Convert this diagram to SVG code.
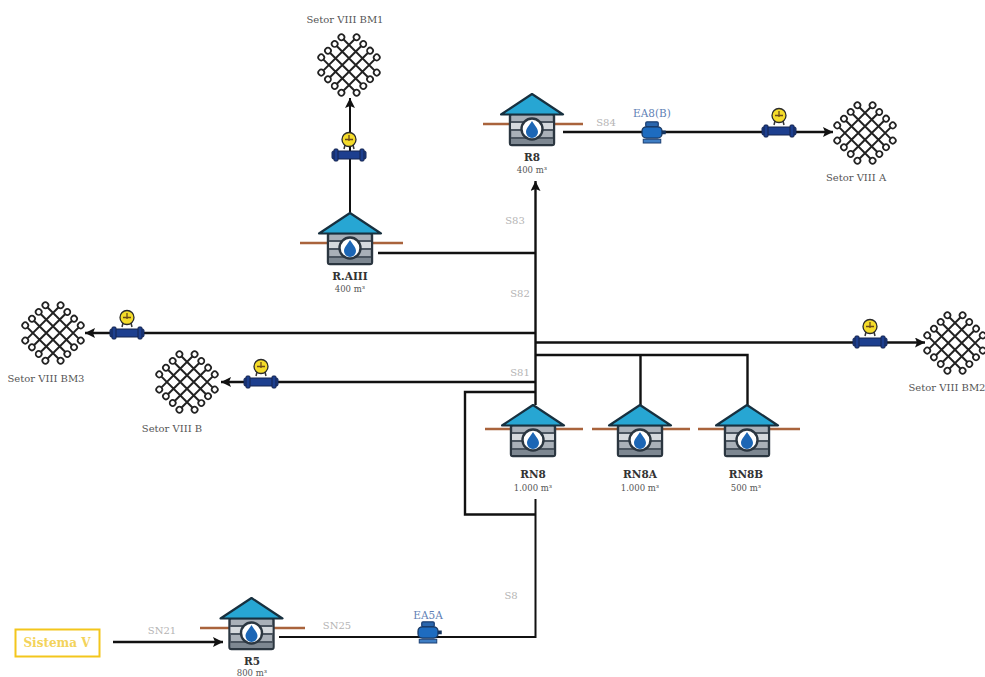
<svg xmlns="http://www.w3.org/2000/svg" xmlns:xlink="http://www.w3.org/1999/xlink" width="985" height="677" viewBox="0 0 985 677">
<style>
text{font-family:"DejaVu Serif","Liberation Serif",serif;text-anchor:middle;fill:#555}
.sec{font-size:10px}
.name{font-size:10.5px;font-weight:bold;fill:#333}
.cap{font-size:8.5px}
.pipe{font-size:10px;fill:#b4b4b4}
.eq{font-size:10.5px;fill:#5f7fb5}
.sys{font-size:12px;font-weight:bold;fill:#f3d35a}
.line{fill:none;stroke:#111;stroke-width:2.4}
.thin{stroke-width:2}
.ground{stroke:#a9633c;stroke-width:2.4;fill:none}
</style>
<defs>
<marker id="arrow" markerUnits="userSpaceOnUse" markerWidth="11" markerHeight="10" refX="10" refY="5" orient="auto"><path d="M0 0L10 5L0 10L2 5Z" fill="#111"/></marker>
<g id="house">
<rect x="-22" y="20" width="44" height="31" rx="2" fill="#a9b0b8" stroke="#2b3640" stroke-width="2.400"/>
<path d="M-21 28H21M-21 36H21M-21 44H21" stroke="#4b5560" stroke-width="2" fill="none"/>
<rect x="-21" y="29" width="42" height="6" fill="#d5d9dd"/>
<rect x="-21" y="45" width="42" height="5" fill="#7d8791"/>
<circle cx="0" cy="35" r="10.500" fill="#fff" stroke="#2b3640" stroke-width="2.400"/>
<path d="M0 27C3 32 6 34.500 6 38A6 6 0 0 1 -6 38C-6 34.500 -3 32 0 27Z" fill="#1c66b5"/>
<path d="M0 0L31 20.500H-31Z" fill="#27a6d3" stroke="#17303f" stroke-width="2.200" stroke-linejoin="round"/>
</g>
<g id="mesh" fill="none" stroke="#222">
<g transform="rotate(45)" stroke-width="2">
<path d="M-14.250 -25V25M-4.750 -25V25M4.750 -25V25M14.250 -25V25M-25 -14.250H25M-25 -4.750H25M-25 4.750H25M-25 14.250H25"/>
<g fill="#fff" stroke-width="1.700">
<circle cx="-14.250" cy="-25" r="3"/><circle cx="-4.750" cy="-25" r="3"/><circle cx="4.750" cy="-25" r="3"/><circle cx="14.250" cy="-25" r="3"/>
<circle cx="-14.250" cy="25" r="3"/><circle cx="-4.750" cy="25" r="3"/><circle cx="4.750" cy="25" r="3"/><circle cx="14.250" cy="25" r="3"/>
<circle cx="-25" cy="-14.250" r="3"/><circle cx="-25" cy="-4.750" r="3"/><circle cx="-25" cy="4.750" r="3"/><circle cx="-25" cy="14.250" r="3"/>
<circle cx="25" cy="-14.250" r="3"/><circle cx="25" cy="-4.750" r="3"/><circle cx="25" cy="4.750" r="3"/><circle cx="25" cy="14.250" r="3"/>
</g>
</g>
</g>
<g id="meter">
<path d="M-5 -6L-4 -10M5 -6L4 -10" stroke="#333" stroke-width="1.500"/>
<rect x="-17" y="-4" width="34" height="8" rx="1.500" fill="#1d3f8f" stroke="#14244f"/>
<rect x="-15" y="-6" width="4" height="12" rx="1" fill="#1d3f8f" stroke="#14244f"/>
<rect x="11" y="-6" width="4" height="12" rx="1" fill="#1d3f8f" stroke="#14244f"/>
<circle cx="0" cy="-15.500" r="7" fill="#f5dc2a" stroke="#2b2b2b" stroke-width="1.300"/>
<path d="M0 -20V-14M-4 -15.500H4" stroke="#6b4a1a" stroke-width="1.300"/>
</g>
<g id="pump">
<g transform="scale(1.250)">
<rect x="-5" y="-9" width="10" height="4" rx="1" fill="#2a66ad" stroke="#1b3f73"/>
<rect x="-8" y="-5" width="16" height="9" rx="3.500" fill="#1e6cc0" stroke="#16345e"/>
<rect x="8" y="-2" width="3" height="3" fill="#16345e"/>
<rect x="-7" y="5" width="14" height="3" fill="#3f7ec4" stroke="#1b3f73" stroke-width=".8"/>
</g>
</g>
</defs>
<g id="connectors">
<path class="line" d="M113 642H223" marker-end="url(#arrow)"/>
<path class="line thin" d="M279 637H535.500V499"/>
<path class="line" d="M535.500 405V181" marker-end="url(#arrow)"/>
<path class="line" d="M535.500 392H465V514.500H535.500"/>
<path class="line" d="M535.500 382H221" marker-end="url(#arrow)"/>
<path class="line" d="M535.500 333H85" marker-end="url(#arrow)"/>
<path class="line" d="M535.500 342.500H925" marker-end="url(#arrow)"/>
<path class="line" d="M535.500 355H747.500V405M640.500 355V405"/>
<path class="line" d="M378 253H535.500"/>
<path class="line thin" d="M350 213V98" marker-end="url(#arrow)"/>
<path class="line" d="M563 132H833" marker-end="url(#arrow)"/>
</g>
<g id="sistema-v"><rect x="15.500" y="629.500" width="84" height="27" fill="#fff" stroke="#f3c61c" stroke-width="2"/><text class="sys" x="57" y="647">Sistema V</text></g>
<g id="r5"><path class="ground" d="M200 628H305"/><use xlink:href="#house" href="#house" x="251.500" y="598"/><text class="name" x="252" y="665">R5</text><text class="cap" x="252" y="676">800 m³</text></g>
<g id="rn8"><path class="ground" d="M485 429H583"/><use xlink:href="#house" href="#house" x="533" y="405"/><text class="name" x="533" y="478">RN8</text><text class="cap" x="533" y="491">1.000 m³</text></g>
<g id="rn8a"><path class="ground" d="M592 429H690"/><use xlink:href="#house" href="#house" x="640" y="405"/><text class="name" x="640" y="478">RN8A</text><text class="cap" x="640" y="491">1.000 m³</text></g>
<g id="rn8b"><path class="ground" d="M698 429H800"/><use xlink:href="#house" href="#house" x="747" y="405"/><text class="name" x="746" y="478">RN8B</text><text class="cap" x="746" y="491">500 m³</text></g>
<g id="r-aiii"><path class="ground" d="M300 243H403"/><use xlink:href="#house" href="#house" x="350" y="213"/><text class="name" x="350" y="280">R.AIII</text><text class="cap" x="350" y="292">400 m³</text></g>
<g id="r8"><path class="ground" d="M483 124H583"/><use xlink:href="#house" href="#house" x="532" y="94"/><text class="name" x="532" y="161">R8</text><text class="cap" x="532" y="173">400 m³</text></g>
<g id="setor-bm1"><use xlink:href="#mesh" href="#mesh" x="349" y="65"/><text class="sec" x="345" y="23">Setor VIII BM1</text></g>
<g id="setor-a"><use xlink:href="#mesh" href="#mesh" x="865" y="133"/><text class="sec" x="856" y="181">Setor VIII A</text></g>
<g id="setor-bm3"><use xlink:href="#mesh" href="#mesh" x="53" y="333"/><text class="sec" x="46" y="382">Setor VIII BM3</text></g>
<g id="setor-b"><use xlink:href="#mesh" href="#mesh" x="187" y="382"/><text class="sec" x="172" y="432">Setor VIII B</text></g>
<g id="setor-bm2"><use xlink:href="#mesh" href="#mesh" x="955" y="343"/><text class="sec" x="947" y="391">Setor VIII BM2</text></g>
<g id="meter-bm1"><use xlink:href="#meter" href="#meter" x="349" y="155"/></g>
<g id="meter-a"><use xlink:href="#meter" href="#meter" x="779" y="131"/></g>
<g id="meter-bm3"><use xlink:href="#meter" href="#meter" x="127" y="333"/></g>
<g id="meter-b"><use xlink:href="#meter" href="#meter" x="261" y="382"/></g>
<g id="meter-bm2"><use xlink:href="#meter" href="#meter" x="870" y="342"/></g>
<g id="pump-ea8"><use xlink:href="#pump" href="#pump" x="652" y="133"/><text class="eq" x="652" y="117">EA8(B)</text></g>
<g id="pump-ea5a"><use xlink:href="#pump" href="#pump" x="428" y="633"/><text class="eq" x="428" y="619">EA5A</text></g>
<g id="pipe-labels">
<text class="pipe" x="162" y="634">SN21</text>
<text class="pipe" x="337" y="629">SN25</text>
<text class="pipe" x="511" y="599">S8</text>
<text class="pipe" x="520" y="376">S81</text>
<text class="pipe" x="520" y="297">S82</text>
<text class="pipe" x="515" y="224">S83</text>
<text class="pipe" x="606" y="126">S84</text>
</g>
</svg>
